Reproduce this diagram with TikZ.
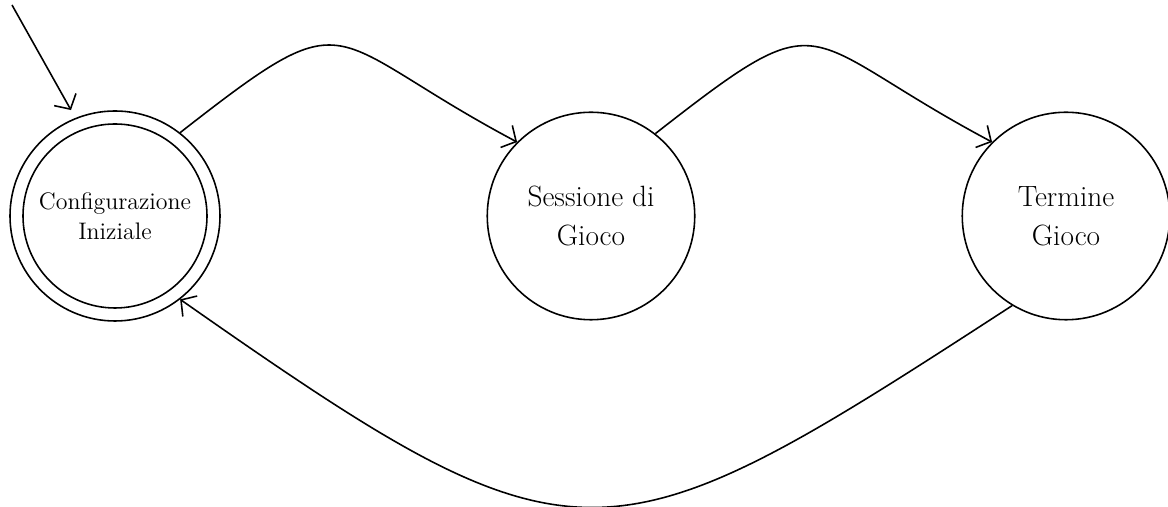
\documentclass[tikz,border=0pt]{standalone}
\usepackage{tikz}
\usetikzlibrary{positioning,arrows.meta}

\tikzset{
  stato/.style={draw, circle, line width=0.9pt, minimum size=4.15cm, inner sep=0pt, align=center},
  trans/.style={line width=0.9pt, -{Straight Barb[length=2.2mm,width=5mm]}}
}

\begin{document}
\begin{tikzpicture}
  \useasboundingbox (0,0) rectangle (23.36,10.14);
  % stati
  \node[stato, minimum size=4.2cm, font=\fontsize{13.6}{17}\selectfont] (conf) at (2.30,5.82) {Configurazione\\Iniziale};
  \draw[line width=0.9pt] (conf.center) circle (1.84);
  \node[stato, font=\fontsize{16.7}{22}\selectfont] (sess) at (11.82,5.82) {Sessione di\\Gioco};
  \node[stato, font=\fontsize{16.7}{22}\selectfont] (term) at (21.32,5.82) {Termine\\Gioco};
  % transizioni
  \coordinate (init) at (0.24,10.04);
  \draw[trans, shorten >=0.18cm] (init) -- (conf.112);
  \draw[trans] (conf.52) to[out=38,in=152,looseness=1.7] (sess.135);
  \draw[trans] (sess.52) to[out=38,in=152,looseness=1.7] (term.135);
  \draw[trans] (term.239) to[out=213,in=-35,looseness=1.5] (conf.-52);
\end{tikzpicture}
\end{document}
